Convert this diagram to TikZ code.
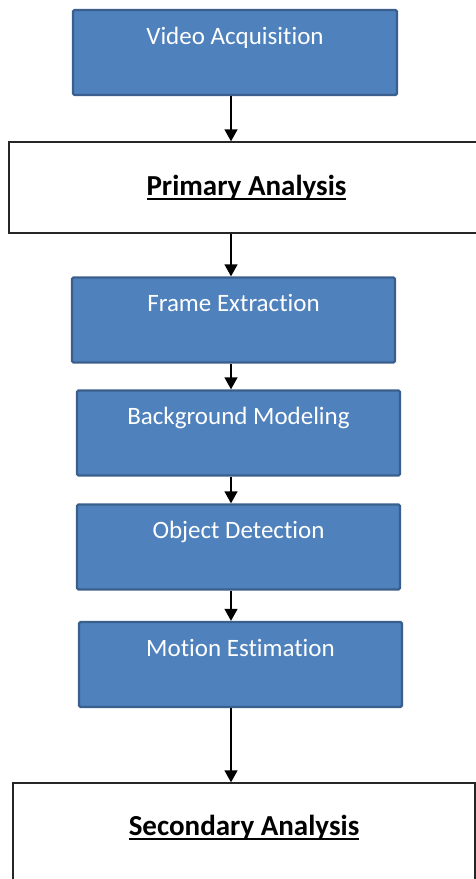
\documentclass[tikz,border=0pt]{standalone}
\usepackage{fontspec}
\setmainfont{Carlito}[Ligatures=NoCommon]
\usetikzlibrary{positioning}
\usetikzlibrary{arrows.meta}

\definecolor{stagefill}{HTML}{4F81BD}
\definecolor{stageedge}{HTML}{3A5F8C}

\newcommand{\titleline}[1]{\setbox0\hbox{#1}\rlap{\rule[-5pt]{\wd0}{1.7pt}}\box0}

\tikzset{
  stage/.style={draw=stageedge, line width=2.4pt, fill=stagefill, text=white,
    rounded corners=1.5pt, inner sep=0pt, text height=34pt, text depth=51pt,
    font=\fontsize{25}{29}\selectfont},
  phase/.style={draw=black!85, line width=1.4pt, fill=white, inner sep=0pt,
    font=\fontsize{29}{33}\selectfont\bfseries},
  flow/.style={-{Triangle[length=12pt,width=13pt]}, line width=1.5pt, black},
}

\begin{document}
\begin{tikzpicture}[x=1pt, y=-1pt]
\useasboundingbox (0,0) rectangle (476,879);
\clip (0,0) rectangle (476,879);
\def\wid{323pt}
\coordinate (spine) at (231,0);
\node[stage, minimum width=324pt] (va) at (235,52.5) {Video Acquisition};
\node[phase, minimum width=475pt, text height=53pt, text depth=38pt] (pa) at (246.5,187.5) {\titleline{Primary Analysis}};
\node[stage, minimum width=\wid] (fe) at (233.5,320) {Frame Extraction};
\node[stage, minimum width=\wid] (bm) at (238.5,433) {Background Modeling};
\node[stage, minimum width=\wid] (od) at (238.5,547) {Object Detection};
\node[stage, minimum width=\wid] (me) at (240.5,664.5) {Motion Estimation};
\node[phase, minimum width=462pt, text height=52pt, text depth=60pt] (sa) at (244,839) {\titleline{Secondary Analysis}};
\draw[flow] (va.south -| spine) -- (pa.north -| spine);
\draw[flow] (pa.south -| spine) -- (fe.north -| spine);
\draw[flow] (fe.south -| spine) -- (bm.north -| spine);
\draw[flow] (bm.south -| spine) -- (od.north -| spine);
\draw[flow] (od.south -| spine) -- (me.north -| spine);
\draw[flow] (me.south -| spine) -- (sa.north -| spine);
\end{tikzpicture}
\end{document}
